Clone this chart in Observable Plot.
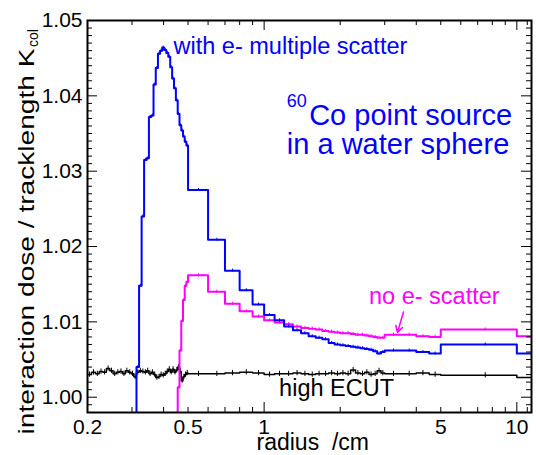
<!DOCTYPE html>
<html>
<head>
<meta charset="utf-8">
<script src="https://cdn.jsdelivr.net/npm/d3@7"></script>
<script src="https://cdn.jsdelivr.net/npm/@observablehq/plot@0.6"></script>
<style>
  html, body { margin: 0; padding: 0; background: #ffffff; }
  #chart { width: 536px; height: 455px; }
</style>
</head>
<body>
<div id="chart"></div>
<script>
// ---- bin edges (radius, cm) ----
const binEdges = [
  0.2, 0.2075, 0.215, 0.2225, 0.23, 0.2375, 0.245, 0.2525, 0.26, 0.2675,
  0.275, 0.2825, 0.29, 0.2975, 0.305, 0.3125, 0.32, 0.3275, 0.335, 0.3425,
  0.35, 0.3575, 0.365, 0.3725, 0.38, 0.3875, 0.395, 0.4025, 0.41, 0.4175,
  0.425, 0.4325, 0.44, 0.4475, 0.455, 0.4625, 0.47, 0.4775, 0.485, 0.4925,
  0.5, 0.6, 0.7, 0.8, 0.9,
  1.0, 1.1, 1.2, 1.3, 1.4, 1.5, 1.6, 1.7, 1.8, 1.9,
  2.0, 2.1, 2.2, 2.3, 2.4, 2.5, 2.6, 2.7, 2.8, 2.9,
  3.0, 3.5, 4.0, 4.5,
  5, 10, 15
];

// ---- series values (one per bin) ----
const blueValues = [
  0, 0, 0, 0, 0, 0, 0, 0, 0, 0, 0, 0, 0, 0, 0,
  1.0040, 1.0148, 1.0240, 1.0315, 1.0317, 1.0372, 1.0374, 1.0415, 1.0437, 1.0456,
  1.0460, 1.0464, 1.0461, 1.0457, 1.0452, 1.0438, 1.0423, 1.0410, 1.0394, 1.0376,
  1.0361, 1.0354, 1.0346, 1.0339, 1.0334,
  1.0275, 1.0209, 1.0168, 1.0142, 1.0123,
  1.0109, 1.0102, 1.0094, 1.0089, 1.0085, 1.0081, 1.0079, 1.0077, 1.0072, 1.0070,
  1.0069, 1.0068, 1.0067, 1.0066, 1.0065, 1.0064, 1.0063, 1.0061, 1.0058, 1.0060,
  1.0062, 1.0062, 1.0060, 1.0058,
  1.0070, 1.0058
];
const magentaValues = [
  0, 0, 0, 0, 0, 0, 0, 0, 0, 0, 0, 0, 0, 0, 0, 0, 0,
  0, 0, 0, 0, 0, 0, 0, 0, 0, 0, 0, 0, 0, 0, 0, 0, 0,
  1.0013, 1.0062, 1.0101, 1.0129, 1.0148, 1.0153,
  1.0162, 1.0140, 1.0124, 1.0114, 1.0107,
  1.0102, 1.0099, 1.0097, 1.0094, 1.0092, 1.0091, 1.0090, 1.0088, 1.0087, 1.0086,
  1.0085, 1.0085, 1.0084, 1.0083, 1.0083, 1.0082, 1.0081, 1.0080, 1.0079, 1.0079,
  1.0083, 1.0083, 1.0081, 1.0080,
  1.0090, 1.0081
];
const blackValues = [
  1.0030, 1.0033, 1.0031, 1.0034, 1.0033, 1.0038, 1.0035, 1.0031, 1.0033, 1.0034,
  1.0031, 1.0035, 1.0033, 1.0031, 1.0027, 1.0033, 1.0035, 1.0034, 1.0033, 1.0035,
  1.0031, 1.0033, 1.0030, 1.0026, 1.0027, 1.0030, 1.0029, 1.0031, 1.0034, 1.0037,
  1.0033, 1.0037, 1.0033, 1.0036, 1.0040, 1.0034, 1.0022, 1.0027, 1.0030, 1.0032,
  1.0031, 1.0031, 1.0032, 1.0033, 1.0032,
  1.0030, 1.0031, 1.0031, 1.0032, 1.0031, 1.0030, 1.0031, 1.0031, 1.0032, 1.0031,
  1.0032, 1.0031, 1.0036, 1.0032, 1.0031, 1.0033, 1.0030, 1.0031, 1.0035, 1.0032,
  1.0031, 1.0031, 1.0032, 1.0030,
  1.0029, 1.0026
];
// statistical uncertainty (half-length of error bars)
const blueErr = 0.0002;
const magentaErr = 0.0002;
const blackErr = 0.00035;

// ---- axis ticks ----
const yLabelTicks = [1.00, 1.01, 1.02, 1.03, 1.04, 1.05];
const yMinorTicks = d3.range(999, 1050).map(d => d / 1000).filter(d => Math.round(d * 1000) % 10 !== 0);
const xLabelTicks = [0.2, 0.5, 1, 5, 10];
const xMajorTicks = [1, 10];
const xMinorTicks = [0.3, 0.4, 0.5, 0.6, 0.7, 0.8, 0.9, 2, 3, 4, 5, 6, 7, 8, 9, 11];

// ---- annotations ----
const noteText = ["with e- multiple scatter", "no e- scatter", "high ECUT"];
const noteR = [0.438, 2.60, 1.146];
const noteV = [1.0456, 1.0124, 1.0002];
const noteColor = ["#0000ff", "#ff00ff", "#000000"];
const sourceText = ["Co point source", "in a water sphere"];
const sourceR = [1.507, 1.2296];
const sourceV = [1.03608, 1.03232];
const isotopeText = ["60"];
const isotopeR = [1.2296];
const isotopeV = [1.0385];
const arrowFrom = {r: 3.56, v: 1.0113};
const arrowTo = {r: 3.37, v: 1.0086};

const xTitle = "radius  /cm";
const yTitle = "interaction dose / tracklength K";
const ySub = "col";

// ---- build step outlines ----
function steps(values) {
  const pts = [];
  values.forEach((v, i) => {
    pts.push({r: binEdges[i], v});
    pts.push({r: binEdges[i + 1], v});
  });
  return pts;
}
function errBars(values, e) {
  return values.map((v, i) => ({r: (binEdges[i] + binEdges[i + 1]) / 2, v, e}))
               .filter(d => d.v > 0);
}

const W = 536, H = 455;
const mL = 87, mR = 5, mT = 20, mB = 43;
const fw = W - mL - mR, fh = H - mT - mB;
const font = "'Liberation Sans', Arial, Helvetica, sans-serif";

const svg = Plot.plot({
  width: W,
  height: H,
  marginLeft: mL,
  marginRight: mR,
  marginTop: mT,
  marginBottom: mB,
  style: {fontFamily: font, fontSize: "21px", background: "#ffffff", color: "#000000"},
  x: {type: "log", domain: [0.2, 11.43]},
  y: {domain: [0.99797, 1.05]},
  marks: [
    // series
    Plot.line(steps(blackValues), {x: "r", y: "v", stroke: "#000000", strokeWidth: 1.5, clip: true}),
    Plot.ruleX(errBars(blackValues, blackErr), {x: "r", y1: d => d.v - d.e, y2: d => d.v + d.e, stroke: "#000000", strokeWidth: 1, clip: true}),
    Plot.line(steps(magentaValues), {x: "r", y: "v", stroke: "#ff00ff", strokeWidth: 2, clip: true}),
    Plot.ruleX(errBars(magentaValues, magentaErr), {x: "r", y1: d => d.v - d.e, y2: d => d.v + d.e, stroke: "#ff00ff", strokeWidth: 1, clip: true}),
    Plot.line(steps(blueValues), {x: "r", y: "v", stroke: "#0000ff", strokeWidth: 2, clip: true}),
    Plot.ruleX(errBars(blueValues, blueErr), {x: "r", y1: d => d.v - d.e, y2: d => d.v + d.e, stroke: "#0000ff", strokeWidth: 1, clip: true}),

    // inward ticks: left / right
    Plot.tickY(yLabelTicks, {y: d => d, insetRight: fw - 10, stroke: "#000", strokeWidth: 1}),
    Plot.tickY(yMinorTicks, {y: d => d, insetRight: fw - 5, stroke: "#000", strokeWidth: 1}),
    Plot.tickY(yLabelTicks, {y: d => d, insetLeft: fw - 10, stroke: "#000", strokeWidth: 1}),
    Plot.tickY(yMinorTicks, {y: d => d, insetLeft: fw - 5, stroke: "#000", strokeWidth: 1}),
    // inward ticks: bottom / top
    Plot.tickX(xMajorTicks, {x: d => d, insetTop: fh - 10, stroke: "#000", strokeWidth: 1}),
    Plot.tickX(xMinorTicks, {x: d => d, insetTop: fh - 5, stroke: "#000", strokeWidth: 1}),
    Plot.tickX(xMajorTicks, {x: d => d, insetBottom: fh - 10, stroke: "#000", strokeWidth: 1}),
    Plot.tickX(xMinorTicks, {x: d => d, insetBottom: fh - 5, stroke: "#000", strokeWidth: 1}),

    // tick labels
    Plot.axisY({ticks: yLabelTicks, tickSize: 0, tickPadding: 5, tickFormat: d => d.toFixed(2), label: null, fontSize: 21}),
    Plot.axisX({ticks: xLabelTicks, tickSize: 0, tickPadding: 7, tickFormat: d => String(d), label: null, fontSize: 21}),

    // frame
    Plot.frame({stroke: "#000000", strokeWidth: 2}),

    // annotations
    Plot.text(noteText, {x: (d, i) => noteR[i], y: (d, i) => noteV[i], text: d => d, fill: (d, i) => noteColor[i],
      textAnchor: "start", lineAnchor: "bottom", fontSize: 23.5}),
    Plot.text(sourceText, {x: (d, i) => sourceR[i], y: (d, i) => sourceV[i], text: d => d, fill: "#0000ff",
      textAnchor: "start", lineAnchor: "bottom", fontSize: 29}),
    Plot.text(isotopeText, {x: (d, i) => isotopeR[i], y: (d, i) => isotopeV[i], text: d => d, fill: "#0000ff",
      textAnchor: "start", lineAnchor: "bottom", fontSize: 18}),
    Plot.arrow([arrowFrom], {x1: d => d.r, y1: d => d.v, x2: () => arrowTo.r, y2: () => arrowTo.v,
      stroke: "#ff00ff", strokeWidth: 1.5, headLength: 9}),

    // axis titles
    Plot.text([xTitle], {frameAnchor: "bottom-left", dx: 256 - mL, dy: 449 - (H - mB), text: d => d,
      textAnchor: "start", lineAnchor: "bottom", fontSize: 23}),
    Plot.text([yTitle], {frameAnchor: "bottom-left", dx: 33 - mL, dy: 434 - (H - mB), rotate: -90, text: d => d,
      textAnchor: "start", lineAnchor: "bottom", fontSize: 22}),
    Plot.text([ySub], {frameAnchor: "top-left", dx: 37 - mL, dy: 46 - mT, rotate: -90, text: d => d,
      textAnchor: "start", lineAnchor: "bottom", fontSize: 14})
  ]
});

document.getElementById("chart").append(svg);

// stretch the rotated title along its direction (as in the original) and attach the subscript
const texts = Array.from(svg.querySelectorAll("text"));
const titleEl = texts.find(t => t.textContent === yTitle);
const subEl = texts.find(t => t.textContent === ySub);
const xTitleEl = texts.find(t => t.textContent === xTitle);
if (xTitleEl) xTitleEl.style.whiteSpace = "pre";
if (titleEl) {
  titleEl.setAttribute("textLength", 434 - 48);
  titleEl.setAttribute("lengthAdjust", "spacingAndGlyphs");
}
if (titleEl && subEl) {
  const svgTop = svg.getBoundingClientRect().top;
  const tTop = titleEl.getBoundingClientRect().top - svgTop;
  const sRect = subEl.getBoundingClientRect();
  const sBottom = sRect.bottom - svgTop;
  const shift = (tTop - 1) - sBottom;
  const tr = subEl.getAttribute("transform");
  if (tr && /translate\(/.test(tr)) {
    subEl.setAttribute("transform", tr.replace(/translate\(([^,\s]+)[,\s]+([^)]+)\)/,
      (m, a, b) => `translate(${a},${(+b + shift).toFixed(2)})`));
  }
}
</script>
</body>
</html>
